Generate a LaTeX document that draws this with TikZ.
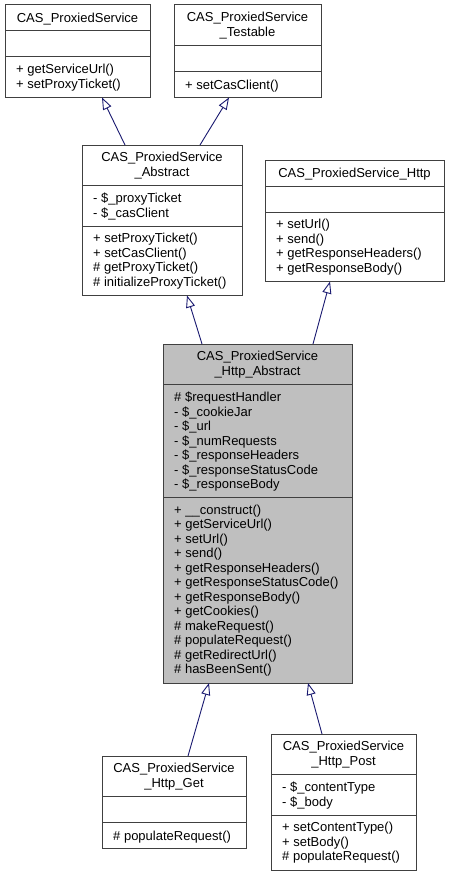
\documentclass[tikz,border=0pt]{standalone}
\usepackage{fontspec}
\setmainfont{Liberation Sans}
\usetikzlibrary{arrows.meta,calc}
\newcommand\umlfont{\fontsize{13}{14.5}\selectfont}
\definecolor{boxgray}{HTML}{404040}
\definecolor{abstractfill}{HTML}{BFBFBF}
\definecolor{inhblue}{HTML}{191970}
\begin{document}
\begin{tikzpicture}[x=1pt,y=-1pt,
  cls/.style={draw=boxgray, line width=1pt, fill=white, inner sep=0pt, outer sep=0pt, anchor=north west},
  divl/.style={draw=boxgray, line width=1pt},
  ttl/.style={font=\umlfont, align=center, inner sep=0pt, anchor=north, execute at begin node={\strut}},
  mem/.style={font=\umlfont, align=left, inner sep=0pt, anchor=north west, execute at begin node={\strut}},
  inh/.style={draw=inhblue, line width=0.9pt, -{Triangle[open, length=12pt, width=9pt]}}
]
\useasboundingbox[fill=white] (0,0) rectangle (448,875);

% CAS_ProxiedService
\node[cls, minimum width=145pt, minimum height=92.5pt] (P) at (5,5) {};
\draw[divl] ($(P.north west)+(0,26)$) -- ($(P.north east)+(0,26)$);
\draw[divl] ($(P.north west)+(0,52)$) -- ($(P.north east)+(0,52)$);
\node[ttl] (Pt) at ($(P.north)+(0,7.35)$) {CAS\_ProxiedService};
\node[mem] (Pm) at ($(P.north west)+(11,59.35)$) {+ getServiceUrl()\\+ setProxyTicket()};

% CAS_ProxiedService_Testable
\node[cls, minimum width=147pt, minimum height=92.5pt] (T) at (174,5) {};
\draw[divl] ($(T.north west)+(0,40.5)$) -- ($(T.north east)+(0,40.5)$);
\draw[divl] ($(T.north west)+(0,66.5)$) -- ($(T.north east)+(0,66.5)$);
\node[ttl] (Tt) at ($(T.north)+(0,7.35)$) {CAS\_ProxiedService\\\_Testable};
\node[mem] (Tm) at ($(T.north west)+(11,73.85)$) {+ setCasClient()};

% CAS_ProxiedService_Abstract
\node[cls, minimum width=160pt, minimum height=150.5pt] (A) at (82,145) {};
\draw[divl] ($(A.north west)+(0,40.5)$) -- ($(A.north east)+(0,40.5)$);
\draw[divl] ($(A.north west)+(0,81)$) -- ($(A.north east)+(0,81)$);
\node[ttl] (At) at ($(A.north)+(0,7.35)$) {CAS\_ProxiedService\\\_Abstract};
\node[mem] (Aa) at ($(A.north west)+(11,47.85)$) {- \$\_proxyTicket\\- \$\_casClient};
\node[mem] (Am) at ($(A.north west)+(11,88.35)$) {+ setProxyTicket()\\+ setCasClient()\\\# getProxyTicket()\\\# initializeProxyTicket()};

% CAS_ProxiedService_Http
\node[cls, minimum width=179pt, minimum height=121.5pt] (H) at (265,160) {};
\draw[divl] ($(H.north west)+(0,26)$) -- ($(H.north east)+(0,26)$);
\draw[divl] ($(H.north west)+(0,52)$) -- ($(H.north east)+(0,52)$);
\node[ttl] (Ht) at ($(H.north)+(0,7.35)$) {CAS\_ProxiedService\_Http};
\node[mem] (Hm) at ($(H.north west)+(11,59.35)$) {+ setUrl()\\+ send()\\+ getResponseHeaders()\\+ getResponseBody()};

% CAS_ProxiedService_Http_Abstract
\node[cls, fill=abstractfill, minimum width=189pt, minimum height=339pt] (HA) at (163,344) {};
\draw[divl] ($(HA.north west)+(0,40.5)$) -- ($(HA.north east)+(0,40.5)$);
\draw[divl] ($(HA.north west)+(0,153.5)$) -- ($(HA.north east)+(0,153.5)$);
\node[ttl] (HAt) at ($(HA.north)+(0,7.35)$) {CAS\_ProxiedService\\\_Http\_Abstract};
\node[mem] (HAa) at ($(HA.north west)+(11,47.85)$) {\# \$requestHandler\\- \$\_cookieJar\\- \$\_url\\- \$\_numRequests\\- \$\_responseHeaders\\- \$\_responseStatusCode\\- \$\_responseBody};
\node[mem] (HAm) at ($(HA.north west)+(11,160.85)$) {+ \_\_construct()\\+ getServiceUrl()\\+ setUrl()\\+ send()\\+ getResponseHeaders()\\+ getResponseStatusCode()\\+ getResponseBody()\\+ getCookies()\\\# makeRequest()\\\# populateRequest()\\\# getRedirectUrl()\\\# hasBeenSent()};

% CAS_ProxiedService_Http_Get
\node[cls, minimum width=144pt, minimum height=92.5pt] (G) at (102,756) {};
\draw[divl] ($(G.north west)+(0,40.5)$) -- ($(G.north east)+(0,40.5)$);
\draw[divl] ($(G.north west)+(0,66.5)$) -- ($(G.north east)+(0,66.5)$);
\node[ttl] (Gt) at ($(G.north)+(0,7.35)$) {CAS\_ProxiedService\\\_Http\_Get};
\node[mem] (Gm) at ($(G.north west)+(11,73.85)$) {\# populateRequest()};

% CAS_ProxiedService_Http_Post
\node[cls, minimum width=145pt, minimum height=136pt] (PO) at (271,734) {};
\draw[divl] ($(PO.north west)+(0,40.5)$) -- ($(PO.north east)+(0,40.5)$);
\draw[divl] ($(PO.north west)+(0,81)$) -- ($(PO.north east)+(0,81)$);
\node[ttl] (POt) at ($(PO.north)+(0,7.35)$) {CAS\_ProxiedService\\\_Http\_Post};
\node[mem] (POa) at ($(PO.north west)+(11,47.85)$) {- \$\_contentType\\- \$\_body};
\node[mem] (POm) at ($(PO.north west)+(11,88.35)$) {+ setContentType()\\+ setBody()\\\# populateRequest()};

% inheritance arrows
\draw[inh] ($(A.north west)+(43,0)$) -- ($(P.south west)+(97,0)$);
\draw[inh] ($(A.north west)+(118,0)$) -- ($(T.south west)+(55,0)$);
\draw[inh] ($(HA.north west)+(39,0)$) -- ($(A.south west)+(105,0)$);
\draw[inh] ($(HA.north west)+(150,0)$) -- ($(H.south west)+(65,0)$);
\draw[inh] ($(G.north west)+(86,0)$) -- ($(HA.south west)+(46,0)$);
\draw[inh] ($(PO.north west)+(51,0)$) -- ($(HA.south west)+(145,0)$);
\end{tikzpicture}
\end{document}
